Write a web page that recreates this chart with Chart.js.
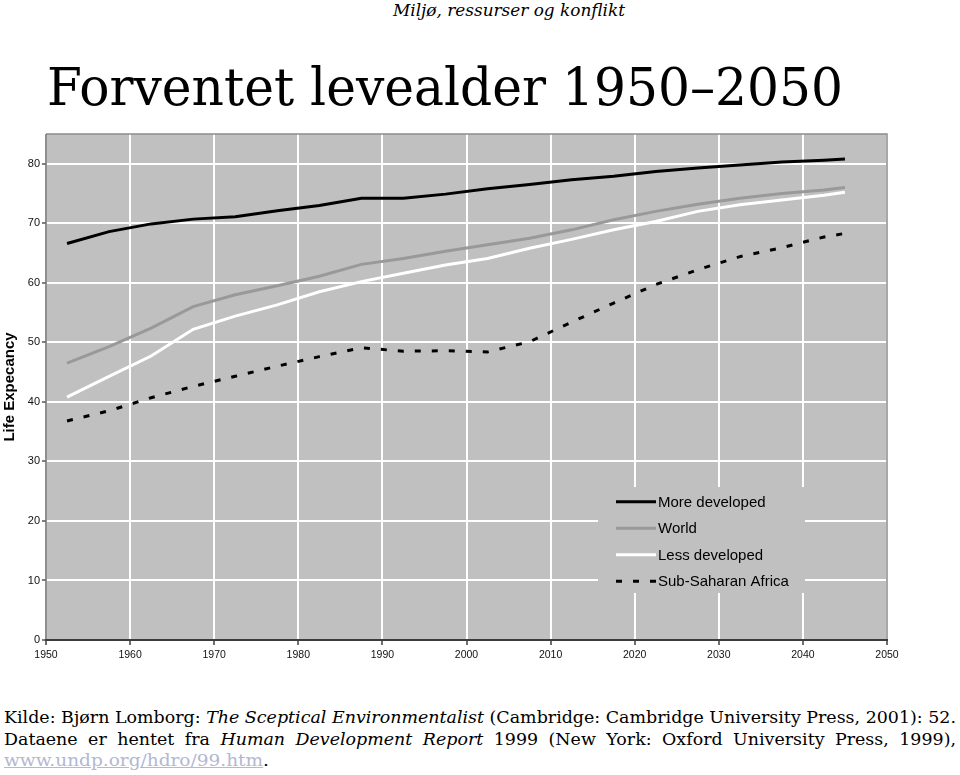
<!DOCTYPE html>
<html lang="no">
<head>
<meta charset="utf-8">
<title>Forventet levealder 1950–2050</title>
<script src="https://cdn.jsdelivr.net/npm/chart.js@4.4.1/dist/chart.umd.min.js"></script>
<style>
    html, body { margin: 0; padding: 0; background: #fff; }
    body {
        width: 960px; height: 775px; position: relative; overflow: hidden;
        font-family: "DejaVu Serif", "Liberation Serif", serif; color: #000;
    }
    .fit { position: absolute; white-space: nowrap; transform-origin: 0 0; }
    #header { left: 393px; top: 0; font-style: italic; font-size: 16px; line-height: 22px; }
    #title { left: 47px; top: 61px; font-size: 52px; line-height: 52px; }
    #chart { position: absolute; left: 0; top: 125px; }
    .src { left: 4px; font-size: 17px; line-height: 22px; }
    #src1 { top: 706px; }
    #src2 { top: 728px; }
    #src3 { top: 749px; }
    #src3 a { color: #b3b7d2; text-decoration: underline; }
</style>
</head>
<body>

<div id="header" class="fit">Miljø, ressurser og konflikt</div>
<div id="title" class="fit">Forventet levealder 1950–2050</div>

<canvas id="chart" width="910" height="550"></canvas>

<div id="src1" class="fit src">Kilde: Bjørn Lomborg: <i>The Sceptical Environmentalist</i> (Cambridge: Cambridge University Press, 2001): 52.</div>
<div id="src2" class="fit src">Dataene er hentet fra <i>Human Development Report</i> 1999 (New York: Oxford University Press, 1999),</div>
<div id="src3" class="fit src"><a>www.undp.org/hdro/99.htm</a>.</div>

<script>
// Data (5-year midpoints)
const YEARS = [1952.5, 1957.5, 1962.5, 1967.5, 1972.5, 1977.5, 1982.5, 1987.5, 1992.5, 1997.5,
               2002.5, 2007.5, 2012.5, 2017.5, 2022.5, 2027.5, 2032.5, 2037.5, 2042.5, 2045];

const MORE_DEVELOPED = [66.6, 68.6, 69.9, 70.7, 71.1, 72.1, 73.0, 74.2, 74.2, 74.9,
                        75.8, 76.5, 77.3, 77.9, 78.7, 79.3, 79.8, 80.3, 80.6, 80.8];
const WORLD          = [46.5, 49.3, 52.4, 56.0, 58.0, 59.5, 61.1, 63.1, 64.1, 65.3,
                        66.4, 67.5, 68.9, 70.6, 72.0, 73.2, 74.2, 75.0, 75.6, 76.0];
const LESS_DEVELOPED = [40.8, 44.3, 47.7, 52.2, 54.4, 56.3, 58.5, 60.2, 61.6, 63.0,
                        64.1, 65.8, 67.3, 68.9, 70.3, 72.0, 73.1, 73.9, 74.7, 75.2];
const SUB_SAHARAN    = [36.8, 38.5, 40.7, 42.6, 44.3, 46.0, 47.6, 49.1, 48.5, 48.6,
                        48.4, 50.1, 53.4, 56.6, 59.7, 62.2, 64.4, 65.9, 67.7, 68.3];

const SERIES_LABELS = ['More developed', 'World', 'Less developed', 'Sub-Saharan Africa'];
const X_TICKS = [1950, 1960, 1970, 1980, 1990, 2000, 2010, 2020, 2030, 2040, 2050];
const Y_TICKS = [0, 10, 20, 30, 40, 50, 60, 70, 80];

const SANS = '"Liberation Sans", Arial, sans-serif';

function toPoints(values) {
    return values.map((v, i) => ({ x: YEARS[i], y: v }));
}

// Grey plot area and its frame
const plotFrame = {
    id: 'plotFrame',
    beforeDraw(chart) {
        const { ctx, chartArea: a } = chart;
        ctx.save();
        ctx.fillStyle = '#c0c0c0';
        ctx.fillRect(a.left, a.top, a.width, a.height);
        ctx.restore();
    },
    afterDraw(chart) {
        const { ctx, chartArea: a } = chart;
        ctx.save();
        ctx.lineWidth = 1.5;
        ctx.strokeStyle = '#8c8c8c';
        ctx.beginPath();
        ctx.moveTo(a.left, a.top);
        ctx.lineTo(a.right, a.top);
        ctx.lineTo(a.right, a.bottom);
        ctx.stroke();
        ctx.strokeStyle = '#6a6a6a';
        ctx.beginPath();
        ctx.moveTo(a.left, a.top);
        ctx.lineTo(a.left, a.bottom);
        ctx.stroke();
        ctx.lineWidth = 2;
        ctx.strokeStyle = '#3c3c3c';
        ctx.beginPath();
        ctx.moveTo(a.left - 1, a.bottom);
        ctx.lineTo(a.right + 1, a.bottom);
        ctx.stroke();
        ctx.restore();
    }
};

// Legend drawn inside the plot, on its own grey box
const insideLegend = {
    id: 'insideLegend',
    afterDraw(chart, args, opts) {
        const { ctx } = chart;
        ctx.save();
        ctx.fillStyle = '#c0c0c0';
        ctx.fillRect(opts.x, opts.y, opts.width, opts.height);
        ctx.font = opts.font;
        ctx.textBaseline = 'middle';
        chart.data.datasets.forEach((ds, i) => {
            const y = opts.firstRow + i * opts.rowGap;
            ctx.beginPath();
            ctx.strokeStyle = ds.borderColor;
            ctx.lineWidth = ds.borderWidth;
            ctx.lineCap = 'butt';
            ctx.setLineDash(ds.borderDash || []);
            ctx.moveTo(opts.sampleX, y);
            ctx.lineTo(opts.sampleX + opts.sampleLen, y);
            ctx.stroke();
            ctx.setLineDash([]);
            ctx.fillStyle = '#000';
            ctx.fillText(ds.label, opts.sampleX + opts.sampleLen + 2, y + 1);
        });
        ctx.restore();
    }
};

const chart = new Chart(document.getElementById('chart'), {
    type: 'line',
    data: {
        datasets: [
            { label: SERIES_LABELS[0], data: toPoints(MORE_DEVELOPED), borderColor: '#000000', borderWidth: 3 },
            { label: SERIES_LABELS[1], data: toPoints(WORLD), borderColor: '#999999', borderWidth: 3 },
            { label: SERIES_LABELS[2], data: toPoints(LESS_DEVELOPED), borderColor: '#ffffff', borderWidth: 3 },
            { label: SERIES_LABELS[3], data: toPoints(SUB_SAHARAN), borderColor: '#000000', borderWidth: 3, borderDash: [6, 11] }
        ]
    },
    options: {
        responsive: false,
        animation: false,
        events: [],
        layout: { padding: { left: 0, top: 9, right: 23, bottom: 0 } },
        elements: {
            point: { radius: 0 },
            line: { tension: 0, fill: false, borderCapStyle: 'butt' }
        },
        plugins: {
            legend: { display: false },
            tooltip: { enabled: false },
            insideLegend: {
                x: 598, y: 362, width: 207, height: 106,
                sampleX: 616, sampleLen: 40,
                firstRow: 376.7, rowGap: 26.5,
                font: '15px ' + SANS
            }
        },
        scales: {
            x: {
                type: 'linear',
                min: 1950,
                max: 2050,
                afterBuildTicks: axis => { axis.ticks = X_TICKS.map(v => ({ value: v })); },
                afterFit: scale => { scale.height = 35; scale.paddingLeft = 0; scale.paddingRight = 0; },
                grid: { color: '#ffffff', lineWidth: 2, tickColor: '#3c3c3c', tickLength: 5, tickWidth: 1.5 },
                border: { display: false },
                ticks: {
                    padding: 4,
                    maxRotation: 0,
                    color: '#111',
                    font: { family: SANS, size: 10.5 },
                    callback: v => String(v)
                }
            },
            y: {
                min: 0,
                max: 85,
                afterBuildTicks: axis => { axis.ticks = Y_TICKS.map(v => ({ value: v })); },
                afterFit: scale => { scale.width = 46; scale.paddingTop = 0; scale.paddingBottom = 0; },
                grid: { color: '#ffffff', lineWidth: 2, tickColor: '#555555', tickLength: 4, tickWidth: 1.5 },
                border: { display: false },
                ticks: {
                    padding: 2,
                    color: '#111',
                    font: { family: SANS, size: 11 },
                    callback: v => String(v)
                },
                title: {
                    display: true,
                    text: 'Life Expecancy',
                    color: '#000',
                    padding: { top: 1, bottom: 0 },
                    font: { family: SANS, size: 15, weight: 'bold', lineHeight: 1.2 }
                }
            }
        }
    },
    plugins: [plotFrame, insideLegend]
});

// Squeeze text blocks to the widths seen in the reference
function squeeze(id, width) {
    const el = document.getElementById(id);
    el.style.transform = '';
    const natural = el.getBoundingClientRect().width;
    el.style.transform = `scaleX(${width / natural})`;
}

// Source note: line 1 condensed to the full width, line 2 justified by word spacing
function layoutSource(width) {
    const first = document.getElementById('src1');
    const second = document.getElementById('src2');
    first.style.transform = '';
    second.style.transform = '';
    second.style.wordSpacing = '';
    const scale = width / first.getBoundingClientRect().width;
    first.style.transform = `scaleX(${scale})`;
    const natural = second.getBoundingClientRect().width;
    const spaces = (second.textContent.match(/ /g) || []).length;
    if (natural < width / scale) {
        second.style.wordSpacing = ((width / scale - natural) / spaces) + 'px';
    }
    second.style.transform = `scaleX(${scale})`;
}

function layoutText() {
    squeeze('header', 232);
    squeeze('title', 796);
    layoutSource(952);
    squeeze('src3', 265);
}

layoutText();
if (document.fonts && document.fonts.ready) {
    document.fonts.ready.then(layoutText);
}
</script>
</body>
</html>
